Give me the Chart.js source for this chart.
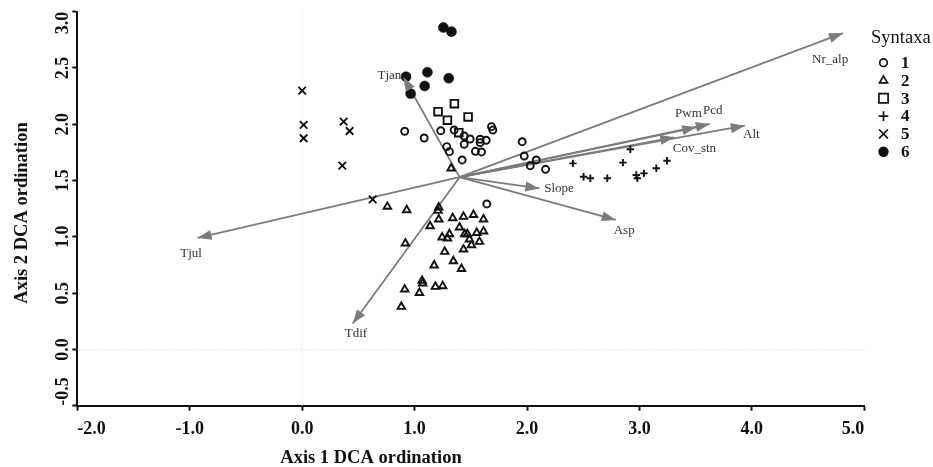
<!DOCTYPE html>
<html>
<head>
<meta charset="utf-8">
<script src="https://cdn.jsdelivr.net/npm/chart.js@4.4.1/dist/chart.umd.min.js"></script>
<style>
html,body{margin:0;padding:0;background:#fff;}
#wrap{width:933px;height:467px;position:relative;}
</style>
</head>
<body>
<div id="wrap"><canvas id="c"></canvas></div>
<script>
// ---------- DATA ----------
const syntaxaNames = ['1', '2', '3', '4', '5', '6'];

const syn1 = [[0.912,1.938],[1.085,1.878],[1.233,1.943],[1.352,1.949],[1.441,1.896],[1.494,1.869],
  [1.441,1.822],[1.286,1.801],[1.310,1.757],[1.583,1.867],[1.583,1.837],[1.637,1.858],[1.541,1.760],
  [1.595,1.754],[1.684,1.979],[1.696,1.949],[1.423,1.683],[1.957,1.845],[1.975,1.718],[2.082,1.683],
  [2.029,1.632],[2.165,1.600],[1.642,1.292]];
const syn2 = [[0.758,1.268],[0.930,1.238],[1.215,1.262],[1.209,1.232],[1.215,1.156],[1.138,1.096],
  [1.339,1.167],[1.435,1.179],[1.524,1.196],[1.613,1.156],[1.399,1.084],[1.446,1.025],[1.470,1.025],
  [1.553,1.036],[1.613,1.049],[1.245,0.996],[1.310,1.025],[1.292,0.987],[1.488,0.978],[1.577,0.957],
  [1.506,0.927],[0.918,0.942],[1.268,0.868],[1.435,0.889],[1.345,0.785],[1.417,0.716],[1.174,0.747],
  [1.067,0.610],[1.072,0.587],[1.185,0.557],[1.250,0.563],[0.912,0.533],[1.043,0.503],[0.882,0.379],
  [1.325,1.609]];
const syn3 = [[1.354,2.183],[1.209,2.112],[1.292,2.036],[1.476,2.065],[1.393,1.925]];
const syn4 = [[2.408,1.653],[2.503,1.534],[2.563,1.520],[2.714,1.520],[2.853,1.659],[2.919,1.778],
  [2.972,1.549],[2.981,1.520],[3.040,1.564],[3.150,1.609],[3.245,1.676]];
const syn5 = [[0.000,2.299],[0.013,1.994],[0.013,1.876],[0.369,2.023],[0.422,1.940],[0.357,1.632],[0.627,1.333]];
const syn6 = [[1.256,2.859],[1.328,2.823],[0.924,2.423],[1.114,2.462],[1.304,2.409],[1.090,2.340],[0.965,2.272]];

const envOrigin = [1.40, 1.53];
const envNames = ['Nr_alp', 'Pcd', 'Pwm', 'Alt', 'Cov_stn', 'Slope', 'Asp', 'Tjan', 'Tjul', 'Tdif'];
const envX = [4.81, 3.625, 3.505, 3.937, 3.31, 2.11, 2.79, 0.90, -0.93, 0.45];
const envY = [2.81, 2.003, 1.973, 1.987, 1.884, 1.43, 1.15, 2.42, 0.99, 0.23];

const xTicks = [-2, -1, 0, 1, 2, 3, 4, 5];
const yTicks = [-0.5, 0, 0.5, 1, 1.5, 2, 2.5, 3];
const xTitle = 'Axis 1 DCA ordination';
const yTitle = 'Axis 2 DCA ordination';
const legendTitle = 'Syntaxa';

// ---------- STYLE / LAYOUT (not data) ----------
const envLabelPos = { // label centre in axis units
  Nr_alp: [4.696, 2.572], Pcd: [3.652, 2.118], Pwm: [3.436, 2.092], Alt: [3.996, 1.905],
  Cov_stn: [3.489, 1.780], Slope: [2.285, 1.428], Asp: [2.864, 1.052], Tjan: [0.776, 2.429],
  Tjul: [-0.988, 0.853], Tdif: [0.479, 0.142]
};
const serif = '"Liberation Serif", "DejaVu Serif", serif';
const ink = '#111';
const arrowColor = '#7b7b7b';

const symStyles = [
  {pointStyle: 'circle', radius: 3.5, fill: false},
  {pointStyle: 'triangle', radius: 4.3, fill: false},
  {pointStyle: 'rect', radius: 5.4, fill: false},
  {pointStyle: 'cross', radius: 3.7, fill: false},
  {pointStyle: 'crossRot', radius: 5.3, fill: false},
  {pointStyle: 'circle', radius: 5.0, fill: true}
];
const series = [syn1, syn2, syn3, syn4, syn5, syn6];

const datasets = [];
envNames.forEach((n, i) => {
  datasets.push({
    type: 'scatter', label: n,
    data: [{x: envOrigin[0], y: envOrigin[1]}, {x: envX[i], y: envY[i]}],
    showLine: true, borderColor: arrowColor, borderWidth: 1.8,
    pointRadius: 0, pointHoverRadius: 0, order: 10
  });
});
series.forEach((s, i) => {
  const st = symStyles[i];
  datasets.push({
    type: 'scatter', label: syntaxaNames[i],
    data: s.map(p => ({x: p[0], y: p[1]})),
    pointStyle: st.pointStyle, pointRadius: st.radius, pointHoverRadius: st.radius,
    pointBorderColor: ink, pointBackgroundColor: st.fill ? ink : 'rgba(255,255,255,0)',
    pointBorderWidth: st.fill ? 0.5 : 1.9, showLine: false, order: 1
  });
});

function drawSym(ctx, idx, x, y, r) {
  const st = symStyles[idx];
  ctx.save();
  ctx.strokeStyle = ink; ctx.fillStyle = ink; ctx.lineWidth = 1.7;
  ctx.beginPath();
  if (st.pointStyle === 'circle') {
    ctx.arc(x, y, r, 0, Math.PI * 2);
    if (st.fill) ctx.fill(); else ctx.stroke();
  } else if (st.pointStyle === 'triangle') {
    ctx.moveTo(x, y - r); ctx.lineTo(x + r * 0.87, y + r * 0.5); ctx.lineTo(x - r * 0.87, y + r * 0.5); ctx.closePath();
    ctx.stroke();
  } else if (st.pointStyle === 'rect') {
    ctx.rect(x - r, y - r, 2 * r, 2 * r); ctx.stroke();
  } else if (st.pointStyle === 'cross') {
    ctx.moveTo(x - r, y); ctx.lineTo(x + r, y); ctx.moveTo(x, y - r); ctx.lineTo(x, y + r); ctx.stroke();
  } else if (st.pointStyle === 'crossRot') {
    ctx.moveTo(x - r, y - r); ctx.lineTo(x + r, y + r); ctx.moveTo(x + r, y - r); ctx.lineTo(x - r, y + r); ctx.stroke();
  }
  ctx.restore();
}

const custom = {
  id: 'custom',
  beforeDatasetsDraw(chart) {
    const {ctx, chartArea: a, scales: {x, y}} = chart;
    ctx.save();
    ctx.strokeStyle = '#dcdcdc'; ctx.lineWidth = 1; ctx.setLineDash([1, 2]);
    const x0 = x.getPixelForValue(0), y0 = y.getPixelForValue(0);
    ctx.beginPath(); ctx.moveTo(x0, a.top); ctx.lineTo(x0, a.bottom); ctx.stroke();
    ctx.beginPath(); ctx.moveTo(a.left, y0); ctx.lineTo(a.right, y0); ctx.stroke();
    ctx.restore();
  },
  afterDatasetsDraw(chart) {
    const {ctx, scales: {x, y}} = chart;
    ctx.save();
    envNames.forEach((n, i) => {
      const ox = x.getPixelForValue(envOrigin[0]), oy = y.getPixelForValue(envOrigin[1]);
      const tx = x.getPixelForValue(envX[i]), ty = y.getPixelForValue(envY[i]);
      const ang = Math.atan2(ty - oy, tx - ox);
      const L = 14, W = 5;
      const bx = tx - L * Math.cos(ang), by = ty - L * Math.sin(ang);
      ctx.fillStyle = arrowColor;
      ctx.beginPath();
      ctx.moveTo(tx, ty);
      ctx.lineTo(bx + W * Math.sin(ang), by - W * Math.cos(ang));
      ctx.lineTo(bx - W * Math.sin(ang), by + W * Math.cos(ang));
      ctx.closePath(); ctx.fill();
    });
    ctx.font = '13px ' + serif;
    ctx.fillStyle = '#333';
    ctx.textAlign = 'center'; ctx.textBaseline = 'middle';
    envNames.forEach(n => {
      const p = envLabelPos[n];
      ctx.fillText(n, x.getPixelForValue(p[0]), y.getPixelForValue(p[1]));
    });
    ctx.restore();
  },
  afterDraw(chart) {
    const {ctx, scales: {x, y}} = chart;
    ctx.save();
    ctx.fillStyle = ink;
    ctx.font = 'bold 18px ' + serif;
    ctx.textBaseline = 'middle';
    yTicks.forEach((v, i) => {
      const py = y.getPixelForValue(v);
      ctx.save();
      ctx.translate(63, py);
      ctx.rotate(-Math.PI / 2);
      ctx.textAlign = i === 0 ? 'left' : (i === yTicks.length - 1 ? 'right' : 'center');
      ctx.fillText(v.toFixed(1), 0, 0);
      ctx.restore();
    });
    ctx.font = 'bold 18.5px ' + serif;
    ctx.textAlign = 'center'; ctx.textBaseline = 'middle';
    ctx.fillText(xTitle, 371, 458);
    ctx.save();
    ctx.translate(22, 213);
    ctx.rotate(-Math.PI / 2);
    ctx.fillText(yTitle, 0, 0);
    ctx.restore();
    ctx.font = '18.5px ' + serif;
    ctx.textAlign = 'left';
    ctx.fillText(legendTitle, 871, 38);
    ctx.font = 'bold 17px ' + serif;
    syntaxaNames.forEach((n, i) => {
      const ly = 62.7 + 17.8 * i;
      const rr = [3.8, 4.6, 4.6, 4.8, 4.4, 5.2][i];
      drawSym(ctx, i, 883.5, ly, rr);
      ctx.fillStyle = ink;
      ctx.fillText(n, 901, ly + 1);
    });
    ctx.restore();
  }
};

new Chart(document.getElementById('c'), {
  type: 'scatter',
  data: {datasets},
  options: {
    responsive: true, maintainAspectRatio: false, animation: false,
    devicePixelRatio: 1,
    layout: {padding: {top: 11.7, right: 68.7, left: 0, bottom: 0}},
    plugins: {legend: {display: false}, tooltip: {enabled: false}},
    events: [],
    scales: {
      x: {
        type: 'linear', min: -2, max: 5,
        afterBuildTicks: s => { s.ticks = xTicks.map(v => ({value: v})); },
        afterFit: s => { s.height = 61.3; },
        border: {display: true, color: ink, width: 2},
        grid: {drawOnChartArea: false, drawTicks: true, tickLength: 5, tickColor: ink, tickWidth: 2},
        ticks: {
          align: 'inner', padding: 8, color: ink,
          font: {family: serif, size: 18, weight: 'bold'},
          callback: v => Number(v).toFixed(1)
        }
      },
      y: {
        type: 'linear', min: -0.5, max: 3.0,
        afterBuildTicks: s => { s.ticks = yTicks.map(v => ({value: v})); },
        afterFit: s => { s.width = 77.3; },
        border: {display: true, color: ink, width: 2},
        grid: {drawOnChartArea: false, drawTicks: true, tickLength: 5, tickColor: ink, tickWidth: 2},
        ticks: {display: false}
      }
    }
  },
  plugins: [custom]
});
</script>
</body>
</html>
